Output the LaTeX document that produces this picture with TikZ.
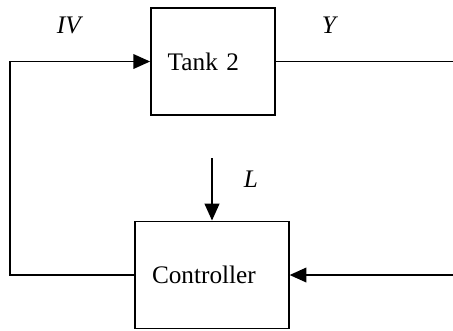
\documentclass[tikz,border=0pt]{standalone}
\usepackage{fontspec}
\setmainfont{Liberation Serif}
\usetikzlibrary{arrows.meta}

\begin{document}
\begin{tikzpicture}[x=0.475pt, y=-0.475pt, line width=0.75pt,
	font=\fontsize{12pt}{14pt}\selectfont,
	>={Triangle[length=8pt, width=7pt]},
	block/.style={draw, align=left, inner xsep=8pt, minimum height=51pt}]
	\useasboundingbox (0, 0) rectangle (453, 330);
	\node [block, text width=43pt] (tank) at (213, 61.5) {Tank 2};
	\node [block, text width=57pt] (ctrl) at (212, 275) {Controller};
	\coordinate (lft) at (10, 0);
	\coordinate (rgt) at (453, 0);
	\coordinate (ltop) at (212, 158);
	\draw [->] (ctrl.west) -- (ctrl.west -| lft) |- (tank.west);
	\draw (tank.east) -- (tank.east -| rgt);
	\draw [->] (ctrl.east -| rgt) -- (ctrl.east);
	\draw [->] (ltop) -- (ctrl.north);
	\node (iv) at (70, 25) {\textit{IV}};
	\node (yout) at (330, 25) {\textit{Y}};
	\node (lload) at (251, 179) {\textit{L}};
\end{tikzpicture}
\end{document}
